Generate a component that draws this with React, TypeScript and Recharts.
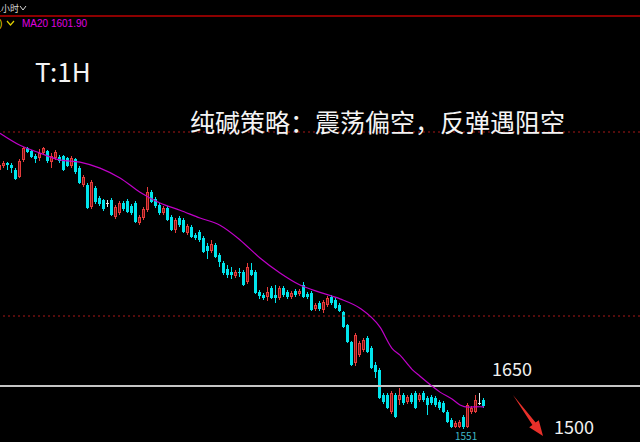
import React from "react";
import { ComposedChart, Bar, Line, XAxis, YAxis, ReferenceLine } from "recharts";

// hourly candles (oldest first)
const opens = [
  2152, 2162, 2169, 2164, 2152, 2136, 2176, 2204, 2197, 2185,
  2180, 2192, 2197, 2171, 2180, 2183, 2185, 2180, 2162, 2178,
  2157, 2118, 2118, 2066, 2110, 2087, 2083, 2076, 2083, 2043,
  2052, 2076, 2080, 2069, 2076, 2029, 2041, 2059, 2101, 2085,
  2071, 2052, 2064, 2043, 2013, 2041, 2036, 2006, 2020, 2001,
  2008, 1994, 1976, 1964, 1978, 1955, 1936, 1922, 1915, 1906,
  1915, 1915, 1892, 1920, 1915, 1869, 1862, 1857, 1878, 1862,
  1855, 1878, 1869, 1857, 1871, 1864, 1885, 1864, 1866, 1829,
  1843, 1827, 1838, 1857, 1850, 1838, 1822, 1792, 1752, 1703,
  1722, 1734, 1762, 1738, 1699, 1687, 1629, 1629, 1589, 1629,
  1617, 1629, 1613, 1629, 1634, 1617, 1634, 1622, 1624, 1622,
  1613, 1610, 1590, 1571, 1555, 1555, 1578, 1555, 1590, 1590,
  1610, 1617,
];
const closes = [
  2164, 2169, 2164, 2157, 2131, 2173, 2204, 2194, 2183, 2178,
  2192, 2204, 2173, 2185, 2194, 2173, 2152, 2162, 2180, 2148,
  2122, 2136, 2064, 2124, 2078, 2073, 2062, 2076, 2048, 2066,
  2076, 2062, 2055, 2052, 2031, 2043, 2062, 2101, 2078, 2069,
  2052, 2064, 2036, 2013, 2036, 2024, 2008, 2022, 1997, 1994,
  1990, 1962, 1964, 1980, 1950, 1938, 1913, 1908, 1908, 1915,
  1913, 1885, 1927, 1908, 1866, 1859, 1855, 1869, 1855, 1855,
  1878, 1862, 1857, 1866, 1862, 1871, 1857, 1857, 1827, 1838,
  1829, 1845, 1855, 1843, 1831, 1824, 1787, 1752, 1699, 1769,
  1750, 1757, 1729, 1692, 1683, 1622, 1613, 1599, 1634, 1578,
  1629, 1610, 1624, 1613, 1599, 1629, 1617, 1606, 1610, 1606,
  1599, 1590, 1566, 1555, 1564, 1566, 1555, 1606, 1599, 1617,
  1610, 1603,
];
const highs = [
  2169, 2173, 2171, 2169, 2157, 2178, 2206, 2206, 2199, 2190,
  2201, 2206, 2199, 2192, 2199, 2187, 2187, 2183, 2185, 2180,
  2162, 2141, 2122, 2129, 2115, 2092, 2085, 2083, 2087, 2071,
  2080, 2080, 2085, 2073, 2080, 2048, 2066, 2113, 2106, 2090,
  2076, 2069, 2069, 2048, 2041, 2045, 2041, 2027, 2024, 2006,
  2013, 1999, 1983, 1990, 1983, 1959, 1941, 1931, 1927, 1920,
  1924, 1920, 1936, 1936, 1920, 1873, 1866, 1880, 1883, 1885,
  1883, 1883, 1873, 1871, 1876, 1876, 1892, 1869, 1871, 1843,
  1848, 1850, 1859, 1862, 1855, 1843, 1824, 1794, 1755, 1773,
  1755, 1762, 1766, 1743, 1706, 1692, 1634, 1634, 1638, 1634,
  1645, 1634, 1629, 1634, 1638, 1634, 1638, 1627, 1629, 1627,
  1617, 1615, 1594, 1576, 1569, 1571, 1583, 1610, 1603, 1629,
  1634, 1622,
];
const lows = [
  2148, 2157, 2152, 2145, 2129, 2134, 2171, 2192, 2180, 2169,
  2173, 2187, 2169, 2157, 2176, 2169, 2150, 2159, 2157, 2143,
  2120, 2113, 2062, 2062, 2073, 2069, 2057, 2066, 2045, 2038,
  2048, 2057, 2052, 2048, 2029, 2024, 2036, 2055, 2076, 2064,
  2048, 2048, 2034, 2010, 2006, 2020, 2006, 2001, 1994, 1990,
  1985, 1959, 1945, 1959, 1948, 1927, 1908, 1901, 1899, 1901,
  1904, 1883, 1887, 1906, 1864, 1852, 1850, 1848, 1852, 1843,
  1850, 1857, 1852, 1852, 1857, 1859, 1855, 1852, 1824, 1824,
  1824, 1820, 1834, 1838, 1829, 1822, 1785, 1750, 1696, 1696,
  1717, 1729, 1727, 1689, 1669, 1620, 1608, 1596, 1585, 1576,
  1606, 1606, 1608, 1608, 1596, 1613, 1613, 1583, 1606, 1601,
  1594, 1587, 1564, 1552, 1552, 1552, 1551, 1553, 1585, 1587,
  1606, 1599,
];

// MA20 line, read at these candle positions
const maAt = [0, 5, 10, 15, 20, 25, 30, 35, 40, 45, 50, 55, 60, 65, 70, 75, 80, 85, 90, 95, 98, 100, 103, 105, 108, 110, 113, 115, 117, 120, 121];
const maVals = [2238, 2210, 2192, 2176, 2171, 2157, 2134, 2101, 2076, 2059, 2041, 2024, 1990, 1948, 1913, 1885, 1868, 1853, 1831, 1787, 1738, 1722, 1689, 1673, 1650, 1636, 1620, 1606, 1601, 1602, 1601.9];

const slots = 161; // empty room on the right for the notes
const level = 1650;
const dashLevels = [2241, 1813];

const CYAN = "#00e4ec";
const RED = "#e63c3c";
const RED_FILL = "#781212";

const data = Array.from({ length: slots }, (_, i) => {
  const has = i < opens.length;
  const m = maAt.indexOf(i);
  return {
    i,
    open: has ? opens[i] : null,
    close: has ? closes[i] : null,
    high: has ? highs[i] : null,
    low: has ? lows[i] : null,
    range: has ? [lows[i], highs[i]] : null,
    ma: m >= 0 ? maVals[m] : null,
  };
});

const Candle = (props: any) => {
  const { x, y, width, height, payload } = props;
  if (!payload || payload.open == null || height == null) return null;
  const { open, close, high, low } = payload;
  const top0 = Math.min(y, y + height);
  const h = Math.abs(height);
  const ratio = h / (high - low);
  const yOf = (v: number) => top0 + (high - v) * ratio;
  const cx = Math.floor(x + width / 2) + 0.5;
  const yH = Math.round(yOf(high));
  const yL = Math.round(yOf(low));
  const bTop = Math.round(yOf(Math.max(open, close)));
  const bBot = Math.round(yOf(Math.min(open, close)));

  if (close === open) {
    return (
      <g>
        <line x1={cx} x2={cx} y1={yH} y2={yL} stroke="#e8e8e8" />
        <line x1={cx - 1.5} x2={cx + 1.5} y1={bTop + 0.5} y2={bTop + 0.5} stroke="#e8e8e8" />
      </g>
    );
  }
  if (close < open) {
    return (
      <g>
        <line x1={cx} x2={cx} y1={yH} y2={yL} stroke={CYAN} />
        <rect x={cx - 1.5} y={bTop} width={3} height={Math.max(1, bBot - bTop)} fill={CYAN} />
      </g>
    );
  }
  const bh = Math.max(1, bBot - bTop);
  return (
    <g>
      <line x1={cx} x2={cx} y1={yH} y2={yL} stroke={RED} />
      {bh > 2 ? (
        <rect x={cx - 1} y={bTop + 0.5} width={2} height={bh - 1} fill={RED_FILL} stroke={RED} strokeWidth={1} />
      ) : (
        <rect x={cx - 1.5} y={bTop} width={3} height={bh} fill={RED} />
      )}
    </g>
  );
};

const cjk = '"Noto Sans CJK SC", "Noto Sans", sans-serif';

export default function App() {
  return (
    <div style={{ position: "fixed", left: 0, top: 0, width: 640, height: 442, background: "#000", overflow: "hidden" }}>
      <div style={{ position: "absolute", left: -2, top: 0 }}>
        <ComposedChart width={644} height={442} data={data} margin={{ top: 0, right: 0, bottom: 0, left: 0 }}>
          <XAxis dataKey="i" hide />
          <YAxis hide type="number" domain={[1520, 2548]} allowDataOverflow />
          {dashLevels.map((v) => (
            <ReferenceLine key={v} y={v} stroke="#a81818" strokeDasharray="2 3" strokeWidth={1.2} />
          ))}
          <ReferenceLine y={level} stroke="#c4c4c4" strokeWidth={2} />
          <Bar dataKey="range" shape={Candle} isAnimationActive={false} />
          <Line
            dataKey="ma"
            type="monotone"
            stroke="#c000c8"
            strokeWidth={1.2}
            dot={false}
            activeDot={false}
            connectNulls
            isAnimationActive={false}
          />
        </ComposedChart>
      </div>
      <svg width={640} height={442} style={{ position: "absolute", left: 0, top: 0, pointerEvents: "none" }}>
        <text x={-4} y={12} fontSize={9} fill="#d8d8d8" fontFamily={cjk}>1小时</text>
        <polyline points="20,6 23,10 26,6" fill="none" stroke="#d8d8d8" strokeWidth={1} />
        <rect x={0} y={15} width={640} height={2} fill="#8c0000" />
        <text x={-1} y={27} fontSize={10} fill="#e0d000" fontFamily="Liberation Sans, Arial">)</text>
        <polyline points="7,21 10.5,25 14,21" fill="none" stroke="#e0d000" strokeWidth={1.2} />
        <text x={22} y={27} fontSize={10} fill="#e000e0" fontFamily="Liberation Sans, Arial">MA20 1601.90</text>

        <text x={35} y={82} fontSize={26} fill="#f4f4f4" fontFamily={cjk}>T:1H</text>
        <text x={190} y={132} fontSize={25} fill="#f4f4f4" fontFamily={cjk}>纯碱策略：震荡偏空，反弹遇阻空</text>

        <text x={492} y={376} fontSize={18} fill="#f0f0f0" fontFamily={cjk}>1650</text>
        <text x={554} y={434} fontSize={18} fill="#f0f0f0" fontFamily={cjk}>1500</text>
        <text x={455} y={440} fontSize={10} fill="#3fb8c8" fontFamily={cjk}>1551</text>
        <polygon
          points="513,395 535.6,422.5 538.8,420.2 543,436 529.2,427.2 532.4,424.9"
          fill="#e8302a"
        />
      </svg>
    </div>
  );
}
